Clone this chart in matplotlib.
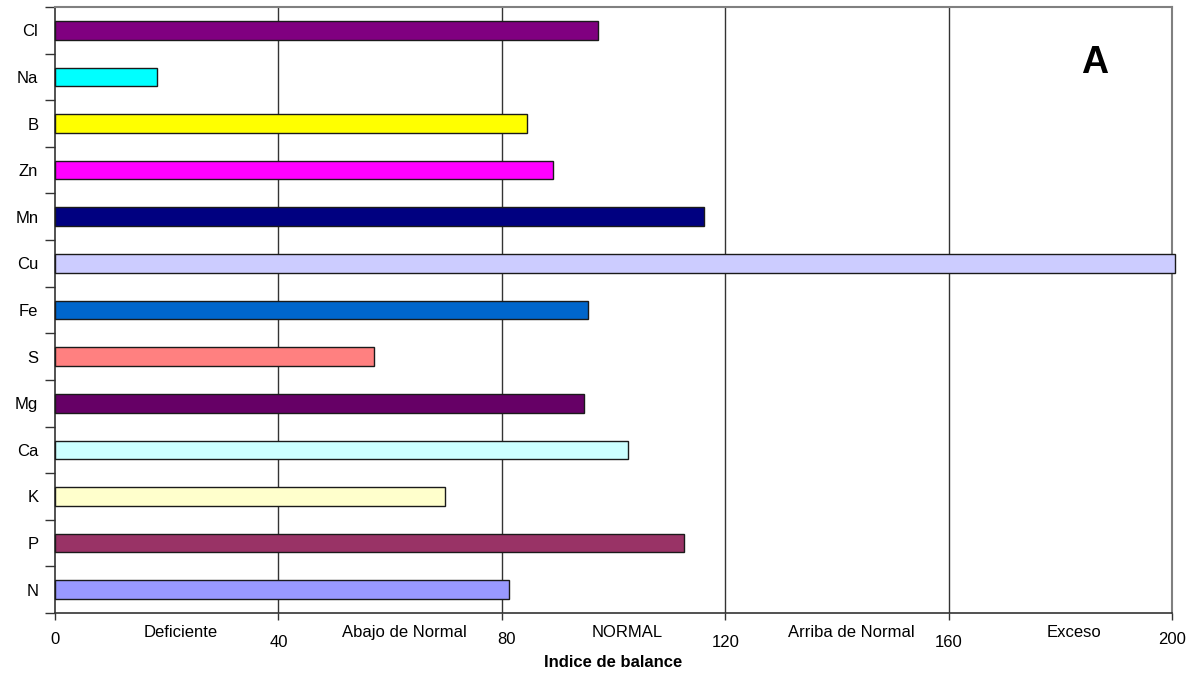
import matplotlib
matplotlib.use("Agg")
from matplotlib import pyplot as plt
from matplotlib.transforms import ScaledTranslation

plt.rcParams['font.family'] = ['Liberation Sans', 'DejaVu Sans']

# Nutrient balance indices, listed bottom to top
nutrients = ["N", "P", "K", "Ca", "Mg", "S", "Fe", "Cu", "Mn", "Zn", "B", "Na", "Cl"]
indices = [81.3, 112.6, 69.9, 102.6, 94.7, 57.2, 95.4, 200.5, 116.2, 89.2, 84.5, 18.3, 97.3]
bar_colors = ["#9999FF", "#993366", "#FFFFCC", "#CCFFFF", "#660066", "#FF8080", "#0066CC",
              "#CCCCFF", "#000080", "#FF00FF", "#FFFF00", "#00FFFF", "#800080"]

zone_edges = [0, 40, 80, 120, 160, 200]
zone_names = ["Deficiente", "Abajo de Normal", "NORMAL", "Arriba de Normal", "Exceso"]

fig = plt.figure(figsize=(11.95, 6.79), dpi=100)
ax = fig.add_axes([55 / 1195, 1 - 613 / 679, 1117 / 1195, 606 / 679])

ypos = list(range(len(nutrients)))
bars = ax.barh(ypos, indices, height=0.4, color=bar_colors, edgecolor="#1a1a1a",
               linewidth=1.0, zorder=3)
for b in bars:
    b.set_clip_on(False)

ax.set_xlim(0, 200)
ax.set_ylim(-0.5, len(nutrients) - 0.5)

# vertical gridlines at the zone edges
for x in zone_edges[1:]:
    ax.axvline(x, color="#333333", linewidth=1.0, zorder=1)

# category labels on the left, ticks between categories
ax.set_yticks(ypos)
ax.set_yticklabels(nutrients, fontsize=12)
ax.set_yticks([i - 0.5 for i in range(len(nutrients) + 1)], minor=True)
ax.tick_params(axis="y", which="major", length=0, pad=12)
ax.tick_params(axis="y", which="minor", length=7, width=1, color="#333333", direction="out")

ax.set_xticks(zone_edges)
ax.set_xticklabels([str(v) for v in zone_edges], fontsize=12)
ax.tick_params(axis="x", length=5, width=1, color="#333333", direction="out", pad=9)
for lab, v in zip(ax.get_xticklabels(), zone_edges):
    if v in (40, 120, 160):
        lab.set_transform(lab.get_transform() + ScaledTranslation(0, -0.03, fig.dpi_scale_trans))
    if v == 80:
        lab.set_transform(lab.get_transform() + ScaledTranslation(0.05, 0, fig.dpi_scale_trans))

# zone names between the numbered ticks
for i, name in enumerate(zone_names):
    mid = (zone_edges[i] + zone_edges[i + 1]) / 2
    ax.text(mid + 2.5, -0.033, name, transform=ax.get_xaxis_transform(),
            ha="center", va="center", fontsize=12)

ax.set_xlabel("Indice de balance", fontsize=12, fontweight="bold", labelpad=3)

fig.text(1095 / 1195, 1 - 63 / 679, "A", ha="center", va="center",
         fontsize=27, fontweight="bold")

for side in ("top", "right"):
    ax.spines[side].set_color("#808080")
    ax.spines[side].set_linewidth(1.5)
for side in ("left", "bottom"):
    ax.spines[side].set_color("#333333")
    ax.spines[side].set_linewidth(1.2)
ax.spines["bottom"].set_zorder(4)

fig.savefig("out.png", dpi=100)
